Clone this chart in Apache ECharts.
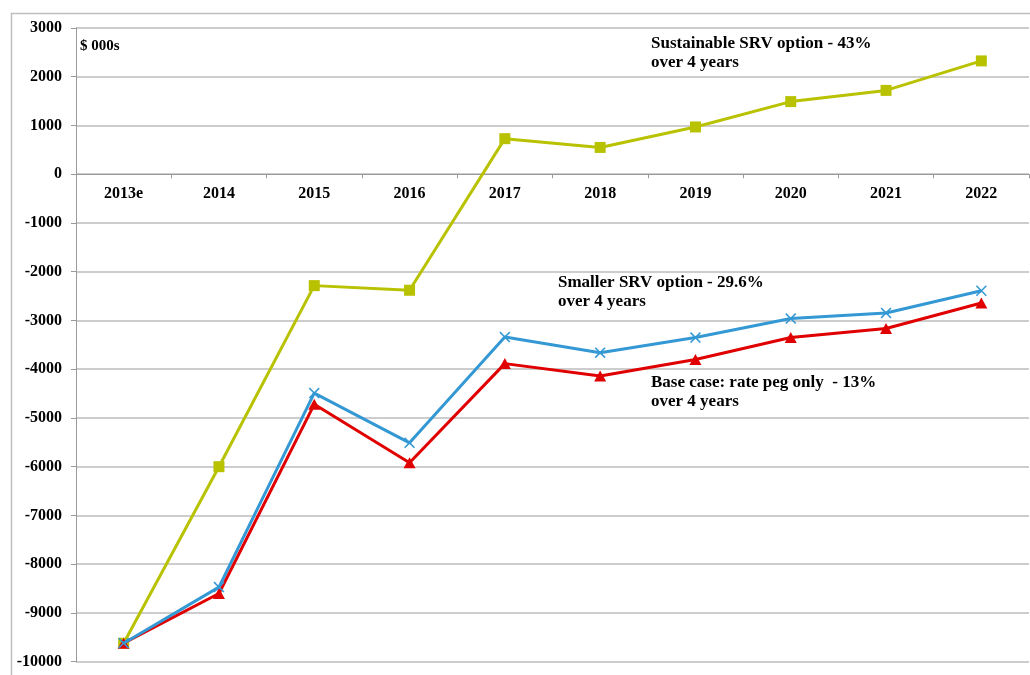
<!DOCTYPE html>
<html>
<head>
<meta charset="utf-8">
<script src="https://cdn.jsdelivr.net/npm/echarts@6/dist/echarts.min.js"></script>
<style>
html,body{margin:0;padding:0;background:#fff;}
#chart{width:1030px;height:675px;}
</style>
</head>
<body>
<div id="chart"></div>
<script>
const categories = ['2013e','2014','2015','2016','2017','2018','2019','2020','2021','2022'];
const sustainableSRV = [-9620, -6000, -2285, -2380, 730, 550, 970, 1490, 1720, 2325];
const smallerSRV = [-9620, -8470, -4490, -5510, -3340, -3660, -3350, -2960, -2845, -2390];
const baseCase = [-9620, -8600, -4720, -5920, -3885, -4140, -3800, -3350, -3165, -2640];
const seriesNames = ['Sustainable SRV option - 43% over 4 years', 'Base case: rate peg only  - 13% over 4 years', 'Smaller SRV option - 29.6% over 4 years'];
const unitLabel = '$ 000s';
const yMin = -10000, yMax = 3000, yStep = 1000;

const FONT = '"Liberation Serif", "DejaVu Serif", serif';
const chart = echarts.init(document.getElementById('chart'));
const crossPath = 'path://M0,1 L1,0 L5,4 L9,0 L10,1 L6,5 L10,9 L9,10 L5,6 L1,10 L0,9 L4,5 Z';

const gridTop = 28, gridBottom = 13.3, H = 675;
const plotH = H - gridTop - gridBottom;
const zeroOffset = -plotH * (0 - yMin) / (yMax - yMin);

function ann(x, y, lines) {
  return lines.map((t, i) => ({
    type: 'text', left: x, top: y + i * 19, z: 10,
    style: { text: t, font: 'bold 17px ' + FONT, fill: '#000' }
  }));
}

chart.setOption({
  animation: false,
  backgroundColor: '#fff',
  grid: { left: 76, right: 1, top: gridTop, bottom: gridBottom, containLabel: false, outerBoundsMode: 'none' },
  xAxis: {
    type: 'category',
    data: categories,
    boundaryGap: true,
    position: 'bottom',
    offset: zeroOffset,
    axisLine: { onZero: false, lineStyle: { color: '#9a9a9a', width: 1 } },
    axisTick: { show: true, length: 4, lineStyle: { color: '#9a9a9a' } },
    axisLabel: { color: '#000', fontFamily: FONT, fontWeight: 'bold', fontSize: 16, margin: 12 },
    splitLine: { show: false }
  },
  yAxis: {
    type: 'value',
    min: yMin, max: yMax, interval: yStep,
    axisLine: { show: true, lineStyle: { color: '#9a9a9a' } },
    axisTick: { show: true, length: 5, lineStyle: { color: '#9a9a9a' } },
    axisLabel: { color: '#000', fontFamily: FONT, fontWeight: 'bold', fontSize: 16, margin: 14, formatter: v => String(v) },
    splitLine: { show: true, lineStyle: { color: '#bdbdbd', width: 1.5 } }
  },
  graphic: [
    { type: 'rect', shape: { x: 11.5, y: 13.5, width: 1040, height: 700 }, style: { fill: 'none', stroke: '#bfbfbf', lineWidth: 1.5 }, z: -1, silent: true },
    { type: 'text', left: 80, top: 38.5, z: 10, style: { text: unitLabel, font: 'bold 15px ' + FONT, fill: '#000' } },
    ...ann(651, 35.5, ['Sustainable SRV option - 43%', 'over 4 years']),
    ...ann(558, 274.5, ['Smaller SRV option - 29.6%', 'over 4 years']),
    ...ann(651, 374.5, ['Base case: rate peg only  - 13%', 'over 4 years'])
  ],
  series: [
    {
      name: seriesNames[0], type: 'line', data: sustainableSRV,
      symbol: 'rect', symbolSize: 11,
      lineStyle: { color: '#b8c200', width: 3 },
      itemStyle: { color: '#b8c200' }, z: 2
    },
    {
      name: seriesNames[1], type: 'line', data: baseCase,
      symbol: 'triangle', symbolSize: [12, 11],
      lineStyle: { color: '#e00000', width: 3 },
      itemStyle: { color: '#e00000' }, z: 3
    },
    {
      name: seriesNames[2], type: 'line', data: smallerSRV,
      symbol: crossPath, symbolSize: 11,
      lineStyle: { color: '#3398d3', width: 3 },
      itemStyle: { color: '#3398d3' }, z: 4
    }
  ]
});
</script>
</body>
</html>
